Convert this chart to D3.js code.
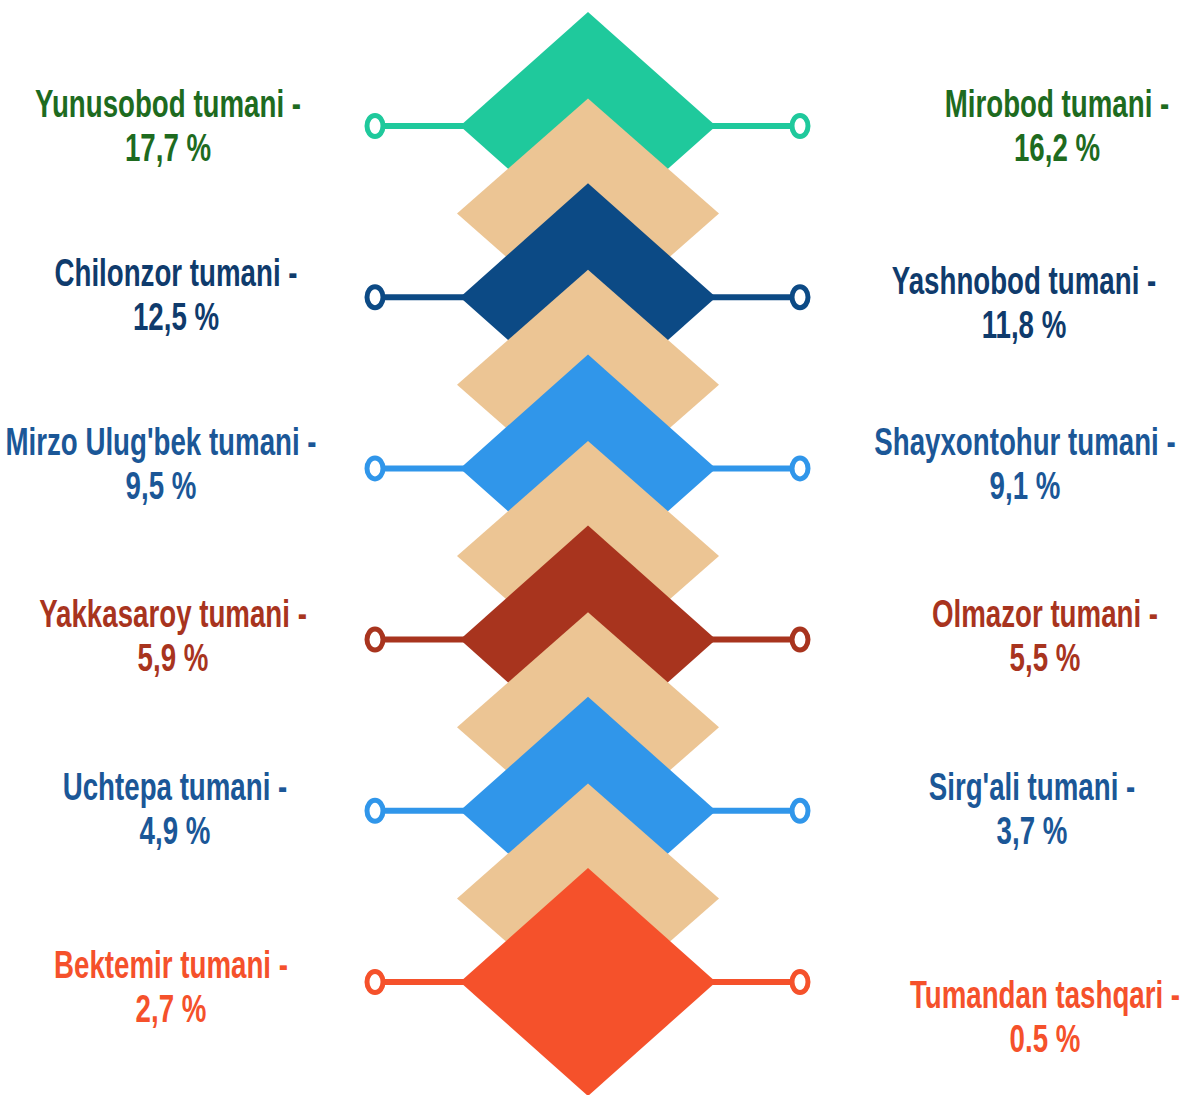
<!DOCTYPE html>
<html>
<head>
<meta charset="utf-8">
<script src="https://cdn.jsdelivr.net/npm/d3@7"></script>
<style>
  body { margin: 0; background: #fff; }
  text { font-family: "Liberation Sans", Arial, sans-serif; font-weight: bold; }
</style>
</head>
<body>
<svg id="chart" width="1188" height="1095"></svg>
<script>
// districts, top to bottom
var leftNames = ["Yunusobod tumani", "Chilonzor tumani", "Mirzo Ulug'bek tumani", "Yakkasaroy tumani", "Uchtepa tumani", "Bektemir tumani"];
var leftShares = ["17,7", "12,5", "9,5", "5,9", "4,9", "2,7"];
var rightNames = ["Mirobod tumani", "Yashnobod tumani", "Shayxontohur tumani", "Olmazor tumani", "Sirg'ali tumani", "Tumandan tashqari"];
var rightShares = ["16,2", "11,8", "9,1", "5,5", "3,7", "0.5"];

var rowColors = ["#1fc99c", "#0c4a85", "#3096ea", "#a8341e", "#3096ea", "#f5512b"];
var textColors = ["#1e6b1f", "#0f3b6c", "#1b5797", "#a8341e", "#1b5797", "#f5512b"];
var beige = "#ecc594";

// hand placed label tweaks (the original is an infographic)
var leftNudge = [[-3, 0], [5, -2], [-10, -4], [2, -4], [4, -2], [0, 5]];
var rightNudge = [[22, 0], [-11, 6], [-10, -4], [10, -4], [-3, -2], [10, 35]];

var svg = d3.select("#chart");
var cx = 588;
var rows = d3.range(leftNames.length);

var y = d3.scalePoint()
    .domain(rows)
    .range([126, 982]);

var hw = 128, hh = 114;      // colored diamond half sizes
var bw = 131, bh = 115;      // beige diamond half sizes

function diamond(x0, y0, w, h) {
    return "M" + x0 + "," + (y0 - h) + "L" + (x0 + w) + "," + y0 +
        "L" + x0 + "," + (y0 + h) + "L" + (x0 - w) + "," + y0 + "Z";
}

var xl = 375, xr = 800;

rows.forEach(function(i) {
    var g = svg.append("g");
    var yy = y(i);
    // connector lines
    g.append("line")
        .attr("x1", xl).attr("x2", cx - hw + 4)
        .attr("y1", yy).attr("y2", yy)
        .attr("stroke", rowColors[i]).attr("stroke-width", 6);
    g.append("line")
        .attr("x1", cx + hw - 4).attr("x2", xr)
        .attr("y1", yy).attr("y2", yy)
        .attr("stroke", rowColors[i]).attr("stroke-width", 6);
    [xl, xr].forEach(function(xx) {
        g.append("ellipse")
            .attr("cx", xx).attr("cy", yy)
            .attr("rx", 8).attr("ry", 10.5)
            .attr("fill", "#fff")
            .attr("stroke", rowColors[i]).attr("stroke-width", 5);
    });
    g.append("path")
        .attr("d", diamond(cx, yy, hw, hh))
        .attr("fill", rowColors[i]);

    // beige spacer between this row and the next
    if (i < rows.length - 1) {
        var ym = (y(i) + y(i + 1)) / 2 + 2;
        svg.append("path")
            .attr("d", diamond(cx, ym, bw, bh))
            .attr("fill", beige);
    }
});

function addLabel(x0, yy, name, share, color) {
    // narrow bold look: squeeze horizontally
    var t = svg.append("text")
        .attr("transform", "translate(" + x0 + "," + yy + ") scale(0.71,1)")
        .attr("text-anchor", "middle")
        .attr("fill", color)
        .style("font-size", "39px");
    t.append("tspan").attr("x", 0).attr("y", -9).text(name + " -");
    t.append("tspan").attr("x", 0).attr("y", 35).text(share + " %");
}

rows.forEach(function(i) {
    addLabel(171 + leftNudge[i][0], y(i) + leftNudge[i][1], leftNames[i], leftShares[i], textColors[i]);
    addLabel(1035 + rightNudge[i][0], y(i) + rightNudge[i][1], rightNames[i], rightShares[i], textColors[i]);
});
</script>
</body>
</html>
